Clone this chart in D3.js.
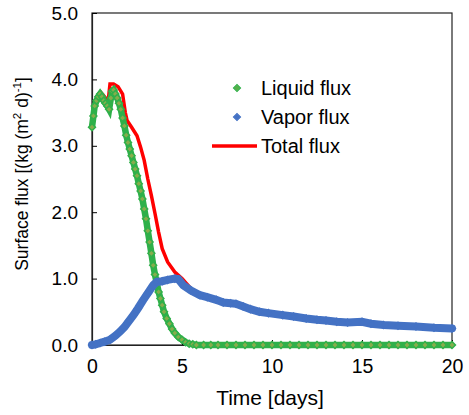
<!DOCTYPE html>
<html lang="en">
<head>
    <meta charset="UTF-8">
    <title>Surface flux</title>
    <script src="https://d3js.org/d3.v7.min.js"></script>
    <style>
        body { margin: 0; background: #fff; }
        text { font-family: "Liberation Sans", Arial, sans-serif; fill: #000; }
    </style>
</head>
<body>
    <script>
        //SVG dimensions and plot box
        var w = 469;
        var h = 415;
        var margin = { left: 92, right: 17, top: 13, bottom: 70 };

        //Tick values
        var xTicks = [0, 5, 10, 15, 20];
        var yTicks = [0, 1, 2, 3, 4, 5];

        //Series names
        var seriesNames = ["Liquid flux", "Vapor flux", "Total flux"];

        //Liquid flux [time, flux]
        var liquidFlux = [
            [0, 3.28], [0.08, 3.45], [0.15, 3.6], [0.25, 3.68], [0.35, 3.74], [0.45, 3.78],
            [0.55, 3.74], [0.65, 3.68], [0.75, 3.64], [0.85, 3.6], [0.95, 3.55], [1.05, 3.72],
            [1.12, 3.82], [1.2, 3.84], [1.3, 3.78], [1.4, 3.72], [1.5, 3.64], [1.6, 3.55],
            [1.7, 3.42], [1.8, 3.3], [1.9, 3.16], [2.0, 3.05], [2.1, 2.95], [2.2, 2.85],
            [2.3, 2.75], [2.4, 2.65], [2.5, 2.55], [2.6, 2.43], [2.7, 2.32], [2.8, 2.2],
            [2.9, 2.05], [3.0, 1.9], [3.1, 1.72], [3.2, 1.55], [3.3, 1.38], [3.4, 1.2],
            [3.5, 1.06], [3.6, 0.93], [3.7, 0.8], [3.8, 0.7], [3.9, 0.6], [4.0, 0.5],
            [4.15, 0.4], [4.3, 0.32], [4.45, 0.24], [4.6, 0.18], [4.8, 0.12], [5.0, 0.08],
            [5.2, 0.04], [5.4, 0.02], [5.6, 0.01], [5.8, 0], [6.2, 0], [6.6, 0], [7, 0],
            [7.5, 0], [8, 0], [8.5, 0], [9, 0], [9.5, 0], [10, 0], [10.5, 0], [11, 0],
            [11.5, 0], [12, 0], [12.5, 0], [13, 0], [13.5, 0], [14, 0], [14.5, 0], [15, 0],
            [15.5, 0], [16, 0], [16.5, 0], [17, 0], [17.5, 0], [18, 0], [18.5, 0], [19, 0],
            [19.5, 0], [20, 0]
        ];

        //Vapor flux [time, flux]
        var vaporFlux = [
            [0, 0.0], [0.2, 0.01], [0.45, 0.03], [0.7, 0.05], [1.0, 0.08], [1.3, 0.14],
            [1.55, 0.2], [1.8, 0.27], [2.05, 0.36], [2.3, 0.45], [2.55, 0.55], [2.85, 0.68],
            [3.1, 0.78], [3.4, 0.9], [3.6, 0.95], [3.9, 0.96], [4.2, 0.98], [4.6, 1.0],
            [4.8, 0.99], [5.07, 0.9], [5.5, 0.82], [6, 0.75], [6.4, 0.72], [6.9, 0.68],
            [7.3, 0.64], [7.7, 0.63], [8.0, 0.62], [8.4, 0.58], [8.8, 0.54], [9.3, 0.5],
            [9.8, 0.48], [10.6, 0.45], [11.2, 0.43], [11.9, 0.4], [12.5, 0.38], [13.0, 0.37],
            [13.6, 0.35], [14.2, 0.34], [15, 0.35], [15.5, 0.32], [16.2, 0.3], [17, 0.29],
            [18, 0.28], [19, 0.26], [20, 0.25]
        ];

        //Total flux [time, flux]
        var totalFlux = [
            [0, 3.3], [0.1, 3.6], [0.3, 3.72], [0.5, 3.8], [0.75, 3.72], [0.9, 3.68],
            [1.0, 3.93], [1.2, 3.93], [1.45, 3.89], [1.7, 3.78], [1.85, 3.5], [1.95, 3.38],
            [2.2, 3.28], [2.5, 3.15], [2.7, 2.98], [2.9, 2.78], [3.1, 2.5], [3.3, 2.25],
            [3.5, 1.98], [3.7, 1.7], [3.9, 1.45], [4.2, 1.25], [4.6, 1.1], [5.0, 1.0],
            [5.5, 0.85], [6, 0.75], [7, 0.67], [8, 0.62], [9, 0.52], [10, 0.47],
            [12, 0.4], [14, 0.34], [16, 0.3], [18, 0.28], [20, 0.25]
        ];

        var green = "#2fb04a", greenFill = "#86ad4c";
        var blue = "#4472c4", red = "#ff0000";

        var svg = d3.select("body")
            .append("svg")
            .attr("width", w)
            .attr("height", h);

        var xScale = d3.scaleLinear()
            .domain([0, 20])
            .range([margin.left, w - margin.right]);

        var yScale = d3.scaleLinear()
            .domain([0, 5])
            .range([h - margin.bottom, margin.top]);

        var line = d3.line()
            .x(function(d) { return xScale(d[0]); })
            .y(function(d) { return yScale(d[1]); });

        //diamond marker (rotated square)
        var diamond = d3.symbol().type(d3.symbolSquare).size(24);

        //Plot frame
        svg.append("rect")
            .attr("x", xScale(0))
            .attr("y", yScale(5))
            .attr("width", xScale(20) - xScale(0))
            .attr("height", yScale(0) - yScale(5))
            .attr("fill", "none")
            .attr("stroke", "#222")
            .attr("stroke-width", 1.2);

        //Axes with inside ticks
        svg.append("g")
            .attr("transform", "translate(0," + yScale(0) + ")")
            .call(d3.axisBottom(xScale).tickValues(xTicks).tickSizeInner(-5).tickSizeOuter(0).tickPadding(14))
            .call(function(g) { g.select(".domain").attr("stroke", "#222").attr("stroke-width", 1.2); })
            .call(function(g) { g.selectAll("text").attr("font-size", 19.5).attr("font-family", "Liberation Sans, Arial"); });

        svg.append("g")
            .attr("transform", "translate(" + xScale(0) + ",0)")
            .call(d3.axisLeft(yScale).tickValues(yTicks).tickFormat(d3.format(".1f")).tickSizeInner(-5).tickSizeOuter(0).tickPadding(14))
            .call(function(g) { g.select(".domain").attr("stroke", "#222").attr("stroke-width", 1.2); })
            .call(function(g) { g.selectAll("text").attr("font-size", 19).attr("font-family", "Liberation Sans, Arial"); });

        //Total flux line
        svg.append("path")
            .datum(totalFlux)
            .attr("d", line)
            .attr("fill", "none")
            .attr("stroke", red)
            .attr("stroke-width", 3.5);

        //Liquid flux: dense markers
        svg.append("path")
            .datum(liquidFlux)
            .attr("d", line)
            .attr("fill", "none")
            .attr("stroke", green)
            .attr("stroke-width", 6.5);
        svg.selectAll(".liq")
            .data(liquidFlux)
            .enter()
            .append("path")
            .attr("class", "liq")
            .attr("d", diamond)
            .attr("transform", function(d) { return "translate(" + xScale(d[0]) + "," + yScale(d[1]) + ") rotate(45)"; })
            .attr("fill", greenFill)
            .attr("stroke", green)
            .attr("stroke-width", 1.5);

        //Vapor flux: dense markers
        svg.append("path")
            .datum(vaporFlux)
            .attr("d", line)
            .attr("fill", "none")
            .attr("stroke", blue)
            .attr("stroke-width", 8)
            .attr("stroke-linecap", "round");
        svg.selectAll(".vap")
            .data(vaporFlux)
            .enter()
            .append("path")
            .attr("class", "vap")
            .attr("d", diamond)
            .attr("transform", function(d) { return "translate(" + xScale(d[0]) + "," + yScale(d[1]) + ") rotate(45)"; })
            .attr("fill", blue)
            .attr("stroke", blue)
            .attr("stroke-width", 1.5);

        //Legend
        var legend = svg.append("g");
        var legY = [88, 117, 146];
        seriesNames.forEach(function(name, i) {
            if (i < 2) {
                legend.append("path")
                    .attr("d", d3.symbol().type(d3.symbolSquare).size(26))
                    .attr("transform", "translate(237," + legY[i] + ") rotate(45)")
                    .attr("fill", i === 0 ? "#55b04a" : blue)
                    .attr("stroke", i === 0 ? green : blue);
            } else {
                legend.append("line")
                    .attr("x1", 212).attr("x2", 257)
                    .attr("y1", legY[i]).attr("y2", legY[i])
                    .attr("stroke", red)
                    .attr("stroke-width", 3.5);
            }
            legend.append("text")
                .attr("x", 261)
                .attr("y", legY[i] + 7)
                .attr("font-size", 20)
                .text(name);
        });

        //Axis titles
        svg.append("text")
            .attr("x", 270)
            .attr("y", 405)
            .attr("text-anchor", "middle")
            .attr("font-size", 21)
            .text("Time [days]");

        var yTitle = svg.append("text")
            .attr("transform", "translate(28,174) rotate(-90)")
            .attr("text-anchor", "middle")
            .attr("font-size", 17.5);
        yTitle.append("tspan").text("Surface flux [(kg (m");
        yTitle.append("tspan").attr("font-size", 11.5).attr("dy", -7).text("2");
        yTitle.append("tspan").attr("dy", 7).text(" d)");
        yTitle.append("tspan").attr("font-size", 11.5).attr("dy", -7).text("-1");
        yTitle.append("tspan").attr("dy", 7).text("]");
    </script>
</body>
</html>
